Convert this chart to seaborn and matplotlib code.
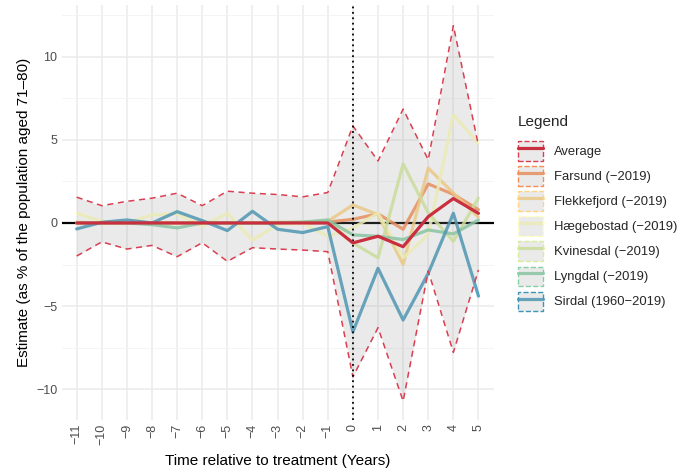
import numpy as np
import pandas as pd
import matplotlib
matplotlib.use('Agg')
import matplotlib.pyplot as plt
from matplotlib.patches import Patch
from matplotlib.lines import Line2D
from matplotlib.legend_handler import HandlerTuple
from matplotlib.ticker import MultipleLocator
import seaborn as sns

# time relative to treatment
years = list(range(-11, 6))

groups = ['Average', 'Farsund (\u22122019)', 'Flekkefjord (\u22122019)', 'H\u00e6gebostad (\u22122019)',
          'Kvinesdal (\u22122019)', 'Lyngdal (\u22122019)', 'Sirdal (1960\u22122019)']

average = [0, 0, 0, 0, 0, 0, 0, 0, 0, 0, 0, -1.2, -0.8, -1.43, 0.38, 1.47, 0.58]
farsund = [0, 0, 0, 0, 0, 0, 0, 0, 0, 0, 0.05, 0.22, 0.55, -0.38, 2.35, 1.72, 0.8]
flekkefjord = [0, 0, 0, 0, 0, 0, 0, 0, 0, 0, 0.1, 1.08, 0.5, -2.5, 3.3, 1.8, 0.35]
haegebostad = [0.58, 0.1, 0.0, 0.48, 0.55, -0.2, 0.58, -1.04, -0.1, 0.0, -0.8, -0.3, 0.6, -2.1, -0.7, 6.5, 4.8]
kvinesdal = [0.05, 0.0, 0.05, 0.0, 0.0, 0.05, 0.0, 0.0, 0.05, 0.05, 0.1, -1.2, -2.1, 3.55, 0.6, -1.1, 1.5]
lyngdal = [0.0, 0.0, 0.0, -0.1, -0.3, 0.0, 0.0, 0.0, 0.0, 0.05, 0.18, -0.72, -0.8, -1.0, -0.42, -0.66, 0.18]
sirdal = [-0.36, 0.04, 0.18, 0.0, 0.68, 0.14, -0.46, 0.7, -0.38, -0.58, -0.22, -6.55, -2.73, -5.84, -3.03, 0.58, -4.4]

# confidence band around the average
upper = [1.55, 1.04, 1.3, 1.49, 1.79, 1.04, 1.91, 1.79, 1.71, 1.57, 1.83, 5.84, 3.73, 6.85, 3.8, 11.87, 4.66]
lower = [-1.99, -1.14, -1.57, -1.35, -2.03, -1.19, -2.31, -1.49, -1.57, -1.63, -1.73, -9.26, -6.3, -10.72, -2.89, -7.79, -2.83]

series = [average, farsund, flekkefjord, haegebostad, kvinesdal, lyngdal, sirdal]
df = pd.concat([pd.DataFrame({'time': years, 'estimate': s, 'group': g}) for g, s in zip(groups, series)])

sns.set_theme(style='whitegrid')
plt.rcParams['font.family'] = ['Liberation Sans', 'DejaVu Sans']

palette = dict(zip(groups, sns.color_palette('Spectral', 7).as_hex()))
palette['Average'] = '#C92F3E'
band_col = '#D93F52'
band_fill = (0.6, 0.6, 0.6, 0.2)

fig = plt.figure(figsize=(6.77, 4.75), dpi=100)
ax = fig.add_axes([0.091, 0.116, 0.638, 0.873])

ax.axhline(0, color='black', lw=1.6, zorder=1)
for g in groups[1:]:
    sub = df[df['group'] == g]
    sns.lineplot(data=sub, x='time', y='estimate', color=palette[g], lw=2.3,
                 alpha=0.85, ax=ax, zorder=2, legend=False)

ax.fill_between(years, lower, upper, color=band_fill, linewidth=0, zorder=3)
ax.plot(years, upper, color=band_col, ls=(0, (4, 3)), lw=1.1, zorder=4)
ax.plot(years, lower, color=band_col, ls=(0, (4, 3)), lw=1.1, zorder=4)
ax.axvline(0, color='black', ls=(0, (1, 2)), lw=1.3, zorder=4)

sns.lineplot(data=df[df['group'] == 'Average'], x='time', y='estimate', color=palette['Average'],
             lw=2.3, ax=ax, zorder=5, legend=False)

ax.set_xlim(-11.6, 5.6)
ax.set_ylim(-11.85, 13.1)
ax.set_xticks(years)
ax.set_xticklabels([str(y).replace('-', '\u2212') for y in years], rotation=90)
ax.yaxis.set_major_locator(MultipleLocator(5))
ax.yaxis.set_minor_locator(MultipleLocator(2.5))
ax.grid(which='major', color='#EBEBEB', lw=1.1)
ax.grid(which='minor', axis='y', color='#F2F2F2', lw=0.6)
for sp in ax.spines.values():
    sp.set_visible(False)
ax.tick_params(axis='both', length=0, labelsize=9, labelcolor='#4D4D4D', pad=3)
ax.set_xlabel('Time relative to treatment (Years)', fontsize=11, color='black', labelpad=6)
ax.set_ylabel('Estimate (as % of the population aged 71\u201380)', fontsize=11, color='black', labelpad=4)

handles = []
for g in groups:
    c = palette[g] if g != 'Average' else band_col
    ln = Line2D([], [], color=palette[g], lw=2.3, alpha=1.0 if g == 'Average' else 0.85)
    box = Patch(facecolor=band_fill, edgecolor=c, linestyle='--', linewidth=1.0)
    handles.append((ln, box) if g != 'Average' else (box, ln))

leg = fig.legend(handles, groups, handler_map={tuple: HandlerTuple(ndivide=1, pad=0)},
                 loc='upper left', bbox_to_anchor=(0.765, 0.757), frameon=False,
                 title='Legend', title_fontsize=11, fontsize=9.4, alignment='left',
                 handlelength=1.95, handleheight=1.9, labelspacing=0.44, handletextpad=0.8,
                 borderaxespad=0, borderpad=0)
leg._legend_box.sep = 8.5

fig.savefig('out.png', dpi=100)
